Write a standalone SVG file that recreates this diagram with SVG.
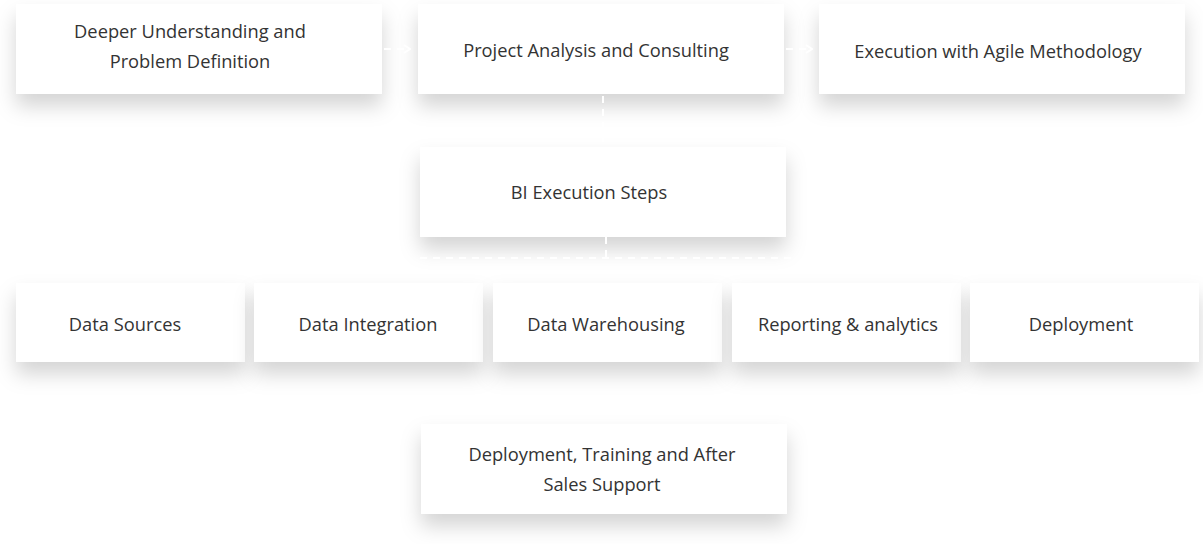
<svg xmlns="http://www.w3.org/2000/svg" width="1203" height="544" viewBox="0 0 1203 544">
<defs>
<filter id="sh" x="-20%" y="-50%" width="140%" height="220%">
<feDropShadow dx="0" dy="12" stdDeviation="10" flood-color="#000" flood-opacity="0.17"/>
</filter>
<marker id="arr" markerWidth="8" markerHeight="10" refX="7" refY="5" orient="auto" markerUnits="userSpaceOnUse">
<path d="M1,1 L7,5 L1,9" fill="none" stroke="#fff" stroke-width="2"/>
</marker>
<style>
.box{fill:#fff;filter:url(#sh)}
.t{font-family:"Open Sans","Noto Sans",sans-serif;font-size:18.3px;fill:#333;text-anchor:middle}
.c{stroke:#fff;stroke-width:2;fill:none;stroke-dasharray:7 6}
</style>
</defs>
<rect width="1203" height="544" fill="#fff"/>
<g id="n1"><rect class="box" x="16" y="4" width="366" height="90"/><text class="t" x="190" y="38">Deeper Understanding and</text><text class="t" x="190" y="68">Problem Definition</text></g>
<g id="n2"><rect class="box" x="418" y="4" width="366" height="90"/><text class="t" x="596" y="57">Project Analysis and Consulting</text></g>
<g id="n3"><rect class="box" x="819" y="4" width="366" height="90"/><text class="t" x="998" y="58">Execution with Agile Methodology</text></g>
<g id="n4"><rect class="box" x="420" y="147" width="366" height="90"/><text class="t" x="589" y="199">BI Execution Steps</text></g>
<g id="n5"><rect class="box" x="16" y="283" width="229" height="79"/><text class="t" x="125" y="331">Data Sources</text></g>
<g id="n6"><rect class="box" x="254" y="283" width="229" height="79"/><text class="t" x="368" y="331">Data Integration</text></g>
<g id="n7"><rect class="box" x="493" y="283" width="229" height="79"/><text class="t" x="606" y="331">Data Warehousing</text></g>
<g id="n8"><rect class="box" x="732" y="283" width="229" height="79"/><text class="t" x="848" y="331">Reporting &amp; analytics</text></g>
<g id="n9"><rect class="box" x="970" y="283" width="229" height="79"/><text class="t" x="1081" y="331">Deployment</text></g>
<g id="n10"><rect class="box" x="421" y="424" width="366" height="90"/><text class="t" x="602" y="461">Deployment, Training and After</text><text class="t" x="602" y="491">Sales Support</text></g>
<g id="connectors">
<path class="c" d="M384,49 L410,49" marker-end="url(#arr)"/>
<path class="c" d="M786,49 L812,49" marker-end="url(#arr)"/>
<path class="c" d="M603,96 L603,145"/>
<path class="c" d="M606,237 L606,258"/>
<path class="c" d="M420,258 L792,258"/>
</g>
</svg>
